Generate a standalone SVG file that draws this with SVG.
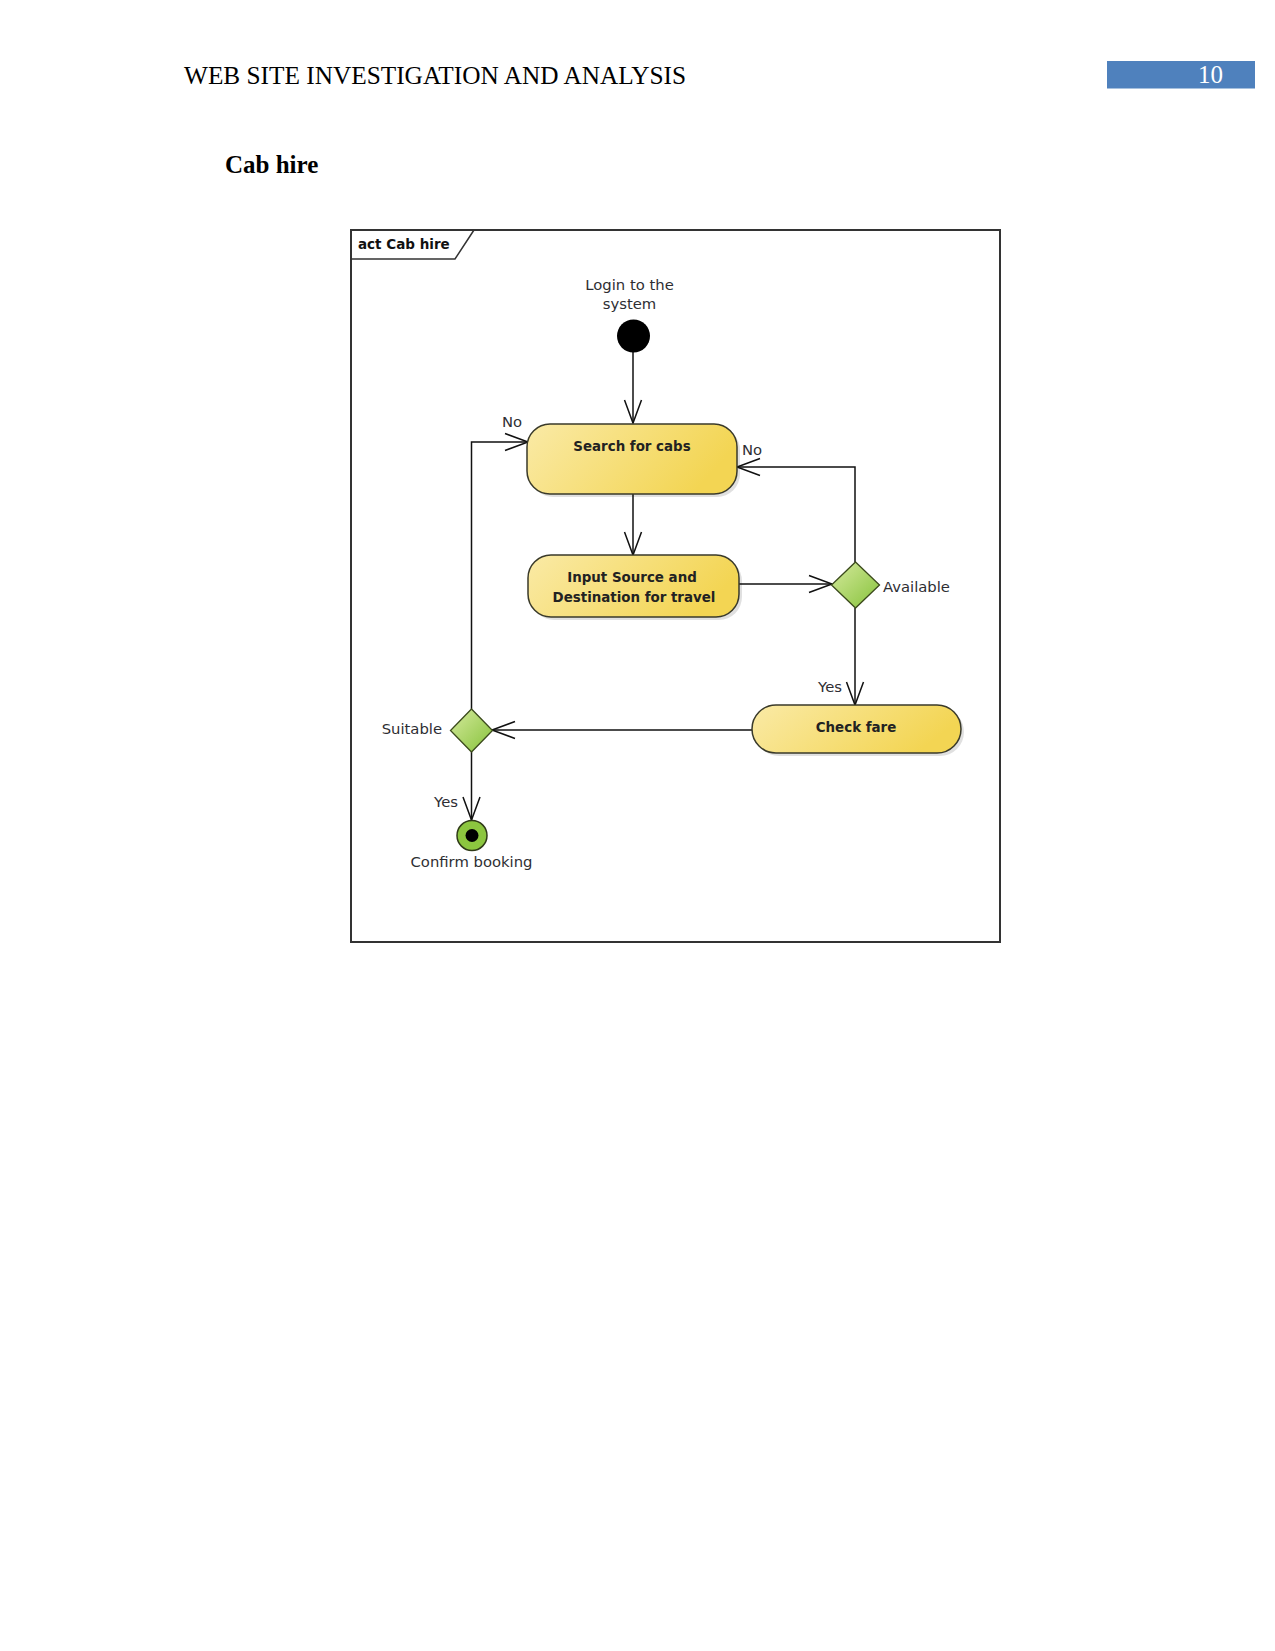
<svg xmlns="http://www.w3.org/2000/svg" width="1275" height="1651" viewBox="0 0 1275 1651">
<style>
.hdr{font-family:"Liberation Serif","Times New Roman",serif;font-size:25px;fill:#000}
.lbl{font-family:"DejaVu Sans",Verdana,sans-serif;font-size:14.8px;fill:#2e2e33}
.act{font-family:"DejaVu Sans",Verdana,sans-serif;font-size:13.4px;font-weight:bold;fill:#222;text-anchor:middle}
.box{fill:url(#yg);stroke:#3a3a2a;stroke-width:1.5}
.shd{fill:#000;opacity:0.12}
.dia{fill:url(#gg);stroke:#3b4a1c;stroke-width:1.3}
.ln{fill:none;stroke:#111;stroke-width:1.5}
</style>
<defs>
<linearGradient id="yg" x1="0" y1="0" x2="1" y2="0.3">
<stop offset="0" stop-color="#FAEAA6"/>
<stop offset="1" stop-color="#F3D553"/>
</linearGradient>
<linearGradient id="gg" x1="0" y1="0" x2="1" y2="1">
<stop offset="0" stop-color="#D6EA9E"/>
<stop offset="1" stop-color="#86C23A"/>
</linearGradient>
<marker id="arr" markerUnits="userSpaceOnUse" markerWidth="30" markerHeight="24" viewBox="-24 -12 30 24" refX="0" refY="0" orient="auto">
<path d="M-23 -8.5 L0 0 L-23 8.5" fill="none" stroke="#111" stroke-width="1.5"/>
</marker>
</defs>
<rect width="1275" height="1651" fill="#fff"/>
<g id="header">
<text class="hdr" x="184" y="84" textLength="502" lengthAdjust="spacingAndGlyphs">WEB SITE INVESTIGATION AND ANALYSIS</text>
<rect x="1107" y="61" width="148" height="27.5" fill="#4F81BD"/>
<text class="hdr" x="1198" y="83" style="fill:#fff">10</text>
<text x="225" y="173" style="font-family:'Liberation Serif','Times New Roman',serif;font-size:25px;font-weight:bold">Cab hire</text>
</g>
<g id="frame">
<rect x="351" y="230" width="649" height="712" fill="none" stroke="#333" stroke-width="2"/>
<path d="M351 259 H455 L474 230" fill="none" stroke="#333" stroke-width="1.5"/>
<text x="358" y="249" style="font-family:'DejaVu Sans',Verdana,sans-serif;font-size:13.5px;font-weight:bold;fill:#111">act Cab hire</text>
</g>
<g id="connectors">
<line class="ln" x1="633" y1="352" x2="633" y2="423" marker-end="url(#arr)"/>
<line class="ln" x1="633" y1="494" x2="633" y2="555" marker-end="url(#arr)"/>
<line class="ln" x1="739" y1="584" x2="832" y2="584" marker-end="url(#arr)"/>
<polyline class="ln" points="855,562 855,467 737,467" marker-end="url(#arr)"/>
<line class="ln" x1="855" y1="608" x2="855" y2="705" marker-end="url(#arr)"/>
<line class="ln" x1="752" y1="730" x2="492" y2="730" marker-end="url(#arr)"/>
<polyline class="ln" points="471.5,709 471.5,442 528,442" marker-end="url(#arr)"/>
<line class="ln" x1="471.5" y1="752" x2="471.5" y2="820" marker-end="url(#arr)"/>
<text class="lbl" x="502" y="427">No</text>
<text class="lbl" x="742" y="455">No</text>
<text class="lbl" x="842" y="692" text-anchor="end">Yes</text>
<text class="lbl" x="458" y="807" text-anchor="end">Yes</text>
</g>
<g id="start">
<circle cx="633.5" cy="336" r="16.5" fill="#000"/>
<text class="lbl" x="629.5" y="290" text-anchor="middle">Login to the</text>
<text class="lbl" x="629.5" y="309" text-anchor="middle">system</text>
</g>
<g id="search">
<rect class="shd" x="530" y="427" width="210" height="70" rx="23"/>
<rect class="box" x="527" y="424" width="210" height="70" rx="23"/>
<text class="act" x="632" y="451">Search for cabs</text>
</g>
<g id="input">
<rect class="shd" x="531" y="558" width="211" height="62" rx="23"/>
<rect class="box" x="528" y="555" width="211" height="62" rx="23"/>
<text class="act" x="632" y="582">Input Source and</text>
<text class="act" x="634" y="602">Destination for travel</text>
</g>
<g id="available">
<polygon class="dia" points="855.5,562 879.5,585 855.5,608 831.5,585"/>
<text class="lbl" x="883" y="592">Available</text>
</g>
<g id="checkfare">
<rect class="shd" x="755" y="708" width="209" height="48" rx="24"/>
<rect class="box" x="752" y="705" width="209" height="48" rx="24"/>
<text class="act" x="856" y="732">Check fare</text>
</g>
<g id="suitable">
<polygon class="dia" points="471.5,709 492.5,730.5 471.5,752 450.5,730.5"/>
<text class="lbl" x="442" y="734" text-anchor="end">Suitable</text>
</g>
<g id="end">
<circle cx="472" cy="835.5" r="15" fill="#8CC63F" stroke="#2f3a17" stroke-width="1.5"/>
<circle cx="472" cy="835.5" r="6.5" fill="#000"/>
<text class="lbl" x="471.5" y="867" text-anchor="middle">Confirm booking</text>
</g>
</svg>
